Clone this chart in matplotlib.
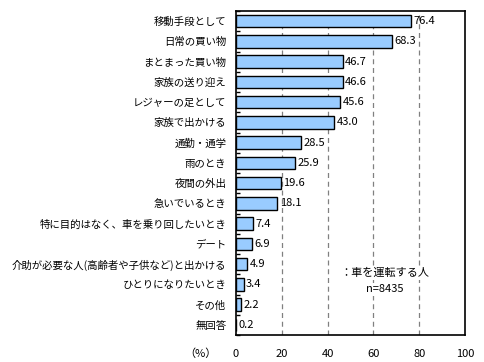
import matplotlib
matplotlib.use('Agg')
import matplotlib.pyplot as plt
import numpy as np

plt.rcParams['font.family'] = ['Noto Sans CJK JP', 'DejaVu Sans']

categories = ['移動手段として', '日常の買い物', 'まとまった買い物', '家族の送り迎え',
              'レジャーの足として', '家族で出かける', '通勤・通学', '雨のとき',
              '夜間の外出', '急いでいるとき', '特に目的はなく、車を乗り回したいとき',
              'デート', '介助が必要な人(高齢者や子供など)と出かける',
              'ひとりになりたいとき', 'その他', '無回答']
values = [76.4, 68.3, 46.7, 46.6, 45.6, 43.0, 28.5, 25.9,
          19.6, 18.1, 7.4, 6.9, 4.9, 3.4, 2.2, 0.2]
xticks = [0, 20, 40, 60, 80, 100]

fig = plt.figure(figsize=(4.84, 3.62), dpi=100)
ax = fig.add_axes([236/484, 1 - 335/362, (465-236)/484, (335-11)/362])

y = np.arange(len(categories))
ax.barh(y, values, height=0.62, color='#99CCFF', edgecolor='black', linewidth=1, zorder=3)
for yi, v in zip(y, values):
    ax.text(v + 1.0, yi, f'{v:.1f}', va='center', ha='left', fontsize=8, zorder=4)

ax.set_xlim(0, 100)
ax.set_ylim(len(categories) - 0.5, -0.5)
ax.set_yticks(y)
ax.set_yticklabels(categories, fontsize=7.5)
ax.set_yticks(np.arange(len(categories) + 1) - 0.5, minor=True)
ax.tick_params(axis='y', which='major', length=0, pad=7)
ax.tick_params(axis='y', which='minor', length=3, direction='in', width=1)
ax.set_xticks(xticks)
ax.set_xticklabels([str(t) for t in xticks], fontsize=8)
ax.tick_params(axis='x', length=0, pad=10)
for t in xticks[1:-1]:
    ax.axvline(t, color='#808080', linestyle=(0, (4, 3)), linewidth=0.9, zorder=1)
for s in ax.spines.values():
    s.set_linewidth(1.2)

ax.text(-0.155, -0.058, '（%）', transform=ax.transAxes, fontsize=8, ha='center', va='center')
ax.text(65, 12.45, '：車を運転する人', fontsize=8, ha='center', va='center',
        bbox=dict(facecolor='white', edgecolor='none', pad=1), zorder=5)
ax.text(65, 13.25, 'n=8435', fontsize=8, ha='center', va='center',
        bbox=dict(facecolor='white', edgecolor='none', pad=1), zorder=5)

fig.savefig('out.png', dpi=100)
